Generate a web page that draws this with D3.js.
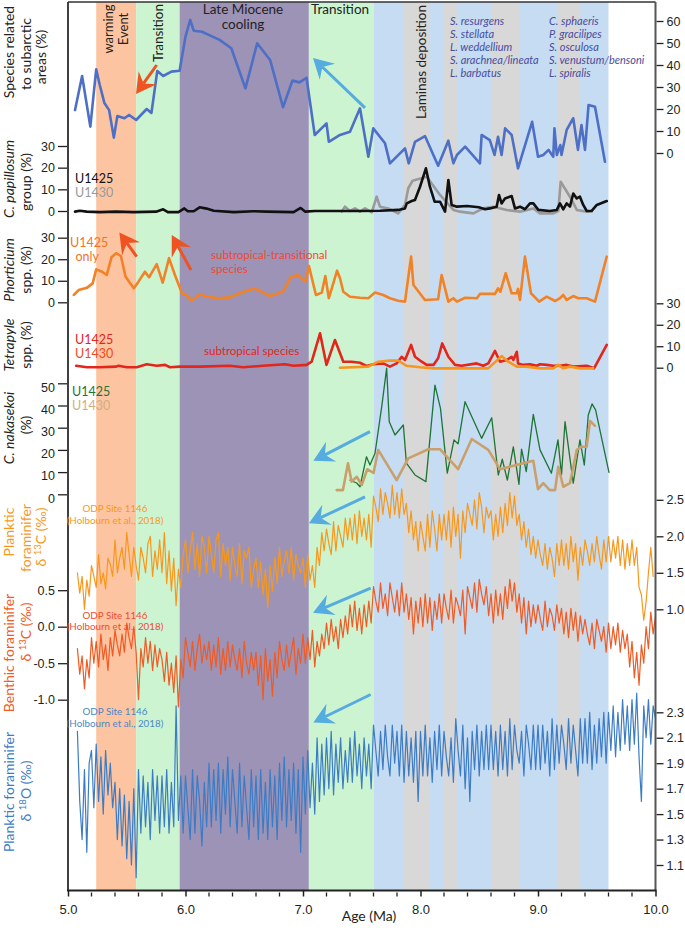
<!DOCTYPE html>
<html>
<head>
<meta charset="utf-8">
<script src="https://cdn.jsdelivr.net/npm/d3@7"></script>
<style>
body { margin: 0; background: #fff; }
svg { display: block; font-family: Lato, 'Noto Sans', sans-serif; }
</style>
</head>
<body>
<svg class="chart" width="685" height="930"></svg>
<script>
/** DATA **/
const ageTicks = [5, 6, 7, 8, 9, 10];
const ageMinor = [5.2, 5.4, 5.6, 5.8, 6.2, 6.4, 6.6, 6.8, 7.2, 7.4, 7.6, 7.8, 8.2, 8.4, 8.6, 8.8, 9.2, 9.4, 9.6, 9.8];

// background intervals (Ma)
const bandEdges = [[5.24, 5.58], [5.58, 5.95], [5.95, 7.05], [7.05, 7.60], [7.60, 9.60],
	[7.86, 8.075], [8.20, 8.31], [8.60, 8.84], [9.17, 9.36]];
const bandKinds = ['warm', 'trans', 'cool', 'trans', 'blue', 'gray', 'gray', 'gray', 'gray'];

// species related to subarctic areas (%)
const subarctic = [[5.06,19.5],[5.12,35],[5.19,12],[5.24,38],[5.27,31],[5.31,22.7],[5.35,19.5],[5.39,7],
	[5.42,16.8],[5.48,15.8],[5.52,17.3],[5.58,15],[5.67,20],[5.71,18.2],[5.76,37.3],[5.81,35],[5.88,37],
	[5.95,37.4],[6.0,52.9],[6.04,60.5],[6.07,55.6],[6.14,55.1],[6.29,51.4],[6.39,47.6],[6.51,29.4],
	[6.61,49.9],[6.72,42.3],[6.83,20.8],[6.91,32.9],[6.97,32.1],[7.03,34.2],[7.10,8.2],[7.20,13.5],
	[7.22,5.1],[7.315,8.2],[7.40,9.7],[7.485,20.3],[7.556,-1.7],[7.598,11.2],[7.698,4.4],[7.74,-4.7],
	[7.868,2.1],[7.90,-4.7],[7.953,5.1],[8.038,7.7],[8.15,-5.8],[8.237,5.6],[8.28,-4.7],[8.31,-0.9],
	[8.38,2.9],[8.506,-4.7],[8.52,8.2],[8.59,5.9],[8.63,-0.9],[8.66,7.4],[8.69,-0.9],[8.72,11.2],
	[8.776,8.2],[8.83,-7],[8.95,14.2],[9.0,-1.7],[9.045,-0.9],[9.09,1.4],[9.13,-1.7],[9.14,11.2],
	[9.16,-0.9],[9.19,3.6],[9.20,-0.9],[9.244,10.5],[9.30,15.8],[9.34,1.4],[9.37,12.7],[9.40,1.4],
	[9.43,21.8],[9.485,21],[9.57,-4]];

// C. papillosum group (%)
const papillosum1425 = [[5.06,-0.3],[5.10,0.1],[5.16,-0.3],[5.27,-0.5],[5.41,-0.3],[5.56,-0.5],[5.75,-0.3],
	[5.81,0.8],[5.85,-0.5],[5.94,-0.5],[5.99,1.2],[6.02,-0.1],[6.07,-0.1],[6.12,1.7],[6.18,1.1],[6.24,0.1],
	[6.41,-0.5],[6.58,-0.1],[6.69,-0.3],[6.92,-0.5],[6.98,1.4],[7.02,-0.3],[7.10,0],[7.20,0],[7.31,0],
	[7.485,0],[7.655,0.1],[7.81,0.5],[7.868,1.2],[7.883,3.5],[7.925,4.6],[7.953,5.1],[7.996,11.2],
	[8.046,19.7],[8.08,11.2],[8.12,4.3],[8.166,4.3],[8.209,-0.3],[8.237,14.3],[8.265,2.8],[8.31,2.0],
	[8.396,2.3],[8.496,1.7],[8.549,0.8],[8.591,1.2],[8.648,2.0],[8.668,7.4],[8.69,3.5],[8.719,5.8],
	[8.776,6.9],[8.804,1.2],[8.847,2.0],[8.889,0.8],[8.932,3.5],[8.96,3.5],[9.003,0.5],[9.10,0],
	[9.16,0.5],[9.187,3.5],[9.215,0.8],[9.244,3.5],[9.272,2.0],[9.30,8.1],[9.33,5.8],[9.357,6.6],
	[9.385,2.8],[9.415,0],[9.457,0.1],[9.50,2.8],[9.585,4.6]];
const papillosum1430 = [[7.33,-0.3],[7.357,2.0],[7.40,0],[7.443,1.2],[7.485,-0.3],[7.528,1.2],[7.585,-0.6],
	[7.627,6.6],[7.655,2.0],[7.726,1.2],[7.81,-1.1],[7.868,2.8],[7.896,10.5],[7.933,14.0],[8.053,15.8],
	[8.166,7.4],[8.28,0.5],[8.336,-0.3],[8.45,-1.1],[8.534,1.2],[8.62,2.0],[8.734,0.5],[8.847,-0.3],
	[8.96,1.2],[9.017,-1.1],[9.13,-1.1],[9.173,0],[9.193,13.5],[9.272,6.6],[9.33,0.5],[9.415,-0.3],[9.457,-0.3]];

// Phorticium spp. (%)
const phorticium1425 = [[5.05,3.4],[5.09,5.7],[5.13,6.3],[5.16,6.7],[5.21,8.8],[5.24,15.3],[5.29,14.2],
	[5.33,12.7],[5.37,20.9],[5.41,22.8],[5.45,21.5],[5.49,11.9],[5.56,6.5],[5.60,9.6],[5.655,14.2],
	[5.69,11.6],[5.755,17.7],[5.806,9.1],[5.86,20.5],[5.91,12.7],[5.97,4.2],[6.01,3.4],[6.05,0.6],
	[6.12,3.7],[6.19,2.6],[6.28,1.9],[6.38,2.3],[6.46,4.2],[6.59,6.5],[6.72,2.9],[6.83,4.9],[6.90,11.9],
	[6.96,12.7],[7.02,9.6],[7.05,16.9],[7.11,3.4],[7.16,4.5],[7.19,12.2],[7.22,1.9],[7.29,14.7],
	[7.315,11.2],[7.343,4.9],[7.40,2.6],[7.485,2.1],[7.556,1.9],[7.613,4.5],[7.683,3.4],[7.74,1.9],
	[7.81,0.7],[7.868,0.3],[7.92,21.2],[7.94,8.0],[8.038,1.1],[8.15,1.4],[8.18,12.7],[8.237,0.3],
	[8.28,1.9],[8.31,0.3],[8.38,2.1],[8.48,1.9],[8.506,3.9],[8.634,3.9],[8.66,6.5],[8.68,4.9],
	[8.725,13.5],[8.776,4.2],[8.82,4.2],[8.83,6.2],[8.847,1.1],[8.889,21.2],[8.94,4.2],[9.01,0.3],
	[9.074,2.6],[9.145,0.6],[9.187,1.9],[9.215,3.4],[9.244,1.1],[9.30,2.9],[9.343,1.9],[9.414,1.9],
	[9.485,0.3],[9.585,21.2]];

// Tetrapyle spp. (%)
const tetrapyle1425 = [[5.07,0.9],[5.16,0.2],[5.27,0.2],[5.41,0.5],[5.43,0.9],[5.50,0.2],[5.585,0.2],
	[5.67,1.6],[5.755,0.9],[5.826,1.3],[5.868,0.2],[5.953,0.5],[6.123,0.5],[6.379,0.9],[6.49,0.2],
	[6.66,0.9],[6.847,1.6],[6.92,0.9],[7.03,1.3],[7.074,2.8],[7.145,16],[7.20,1.3],[7.272,12.9],
	[7.343,2.8],[7.414,2.8],[7.485,2.3],[7.54,0.8],[7.60,1.6],[7.683,2.0],[7.74,0.5],[7.797,2.0],
	[7.84,5.1],[7.868,3.6],[7.92,10.6],[7.953,5.1],[8.01,2.8],[8.053,1.3],[8.11,1.3],[8.15,4.4],
	[8.185,11.3],[8.237,5.1],[8.294,1.3],[8.35,0.9],[8.478,2.0],[8.534,0.9],[8.577,2.0],[8.634,7.8],
	[8.677,2.8],[8.734,3.6],[8.776,5.1],[8.79,3.6],[8.82,7.4],[8.83,2.0],[8.875,1.3],[8.932,1.6],
	[8.99,0.9],[9.017,1.6],[9.074,1.3],[9.13,0.9],[9.187,0.9],[9.244,1.3],[9.30,0.5],[9.414,0.9],
	[9.477,-0.3],[9.585,10.6]];
const tetrapyle1430 = [[7.315,0],[7.556,0.5],[7.64,2.8],[7.74,3.3],[7.81,3.3],[7.88,0.9],[7.996,0.2],
	[8.11,-0.3],[8.577,-0.3],[8.69,5.4],[8.747,2.8],[8.82,0.5],[8.90,0.5],[9.017,-0.3],[9.13,-0.3],
	[9.173,1.3],[9.215,-0.3],[9.272,0.5],[9.357,-0.3],[9.47,-0.3]];

// C. nakasekoi (%)
const nakasekoi1425 = [[7.40,6.4],[7.457,5.1],[7.485,3.4],[7.54,16.9],[7.57,13.2],[7.613,18.5],[7.67,39.5],
	[7.712,56.8],[7.734,32.7],[7.783,26.7],[7.854,31.2],[7.88,14.0],[7.953,8.7],[8.046,5.7],[8.123,49.2],
	[8.17,38.7],[8.228,9.5],[8.285,24.5],[8.32,22.7],[8.379,41.7],[8.52,25.2],[8.606,34.5],[8.662,8.7],
	[8.696,15.8],[8.739,6.4],[8.79,21.4],[8.838,4.5],[8.86,20.3],[8.90,10.2],[8.96,36.0],[9.017,20.0],
	[9.114,9.5],[9.17,24.5],[9.20,8.7],[9.23,32.7],[9.30,5.0],[9.357,24.5],[9.394,13.2],[9.428,35.7],
	[9.46,40.7],[9.49,38.0],[9.604,9.9]];
const nakasekoi1430 = [[7.287,1.9],[7.34,1.9],[7.383,14.0],[7.414,5.7],[7.457,7.9],[7.50,4.2],[7.547,11.3],
	[7.60,9.6],[7.64,20.0],[7.797,6.4],[7.896,16.2],[8.066,20.3],[8.166,20.3],[8.32,11.3],[8.436,24.9],
	[8.577,20.0],[8.677,11.3],[8.96,15.1],[9.0,2.3],[9.045,5.0],[9.10,1.9],[9.145,1.9],[9.173,12.4],
	[9.215,3.4],[9.272,5.0],[9.33,20.0],[9.37,21.4],[9.414,21.4],[9.443,33.0],[9.485,30.8]];

// ODP Site 1146 isotope records (Holbourn et al., 2018), sample ages (Ma)
const isoAge = [5.08,5.10,5.12,5.14,5.16,5.18,
	5.20,5.22,5.24,5.26,5.28,5.30,5.32,5.34,5.36,5.38,
	5.40,5.42,5.44,5.46,5.48,5.50,5.52,5.54,5.56,5.58,
	5.60,5.62,5.64,5.66,5.68,5.70,5.72,5.74,5.76,5.78,
	5.80,5.82,5.84,5.86,5.88,5.90,5.92,5.94,5.96,5.98,
	6.00,6.02,6.04,6.06,6.08,6.10,6.12,6.14,6.16,6.18,
	6.20,6.22,6.24,6.26,6.28,6.30,6.32,6.34,6.36,6.38,
	6.40,6.42,6.44,6.46,6.48,6.50,6.52,6.54,6.56,6.58,
	6.60,6.62,6.64,6.66,6.68,6.70,6.72,6.74,6.76,6.78,
	6.80,6.82,6.84,6.86,6.88,6.90,6.92,6.94,6.96,6.98,
	7.00,7.02,7.04,7.06,7.08,7.10,7.12,7.14,7.16,7.18,
	7.20,7.22,7.24,7.26,7.28,7.30,7.32,7.34,7.36,7.38,
	7.40,7.42,7.44,7.46,7.48,7.50,7.52,7.54,7.56,7.58,
	7.60,7.62,7.64,7.66,7.68,7.70,7.72,7.74,7.76,7.78,
	7.80,7.82,7.84,7.86,7.88,7.90,7.92,7.94,7.96,7.98,
	8.00,8.02,8.04,8.06,8.08,8.10,8.12,8.14,8.16,8.18,
	8.20,8.22,8.24,8.26,8.28,8.30,8.32,8.34,8.36,8.38,
	8.40,8.42,8.44,8.46,8.48,8.50,8.52,8.54,8.56,8.58,
	8.60,8.62,8.64,8.66,8.68,8.70,8.72,8.74,8.76,8.78,
	8.80,8.82,8.84,8.86,8.88,8.90,8.92,8.94,8.96,8.98,
	9.00,9.02,9.04,9.06,9.08,9.10,9.12,9.14,9.16,9.18,
	9.20,9.22,9.24,9.26,9.28,9.30,9.32,9.34,9.36,9.38,
	9.40,9.42,9.44,9.46,9.48,9.50,9.52,9.54,9.56,9.58,
	9.60,9.62,9.64,9.66,9.68,9.70,9.72,9.74,9.76,9.78,
	9.80,9.82,9.84,9.86,9.88,9.90,9.92,9.94,9.96,9.98,
	10.00];
// planktic foraminifer d13C (permil)
const d13cPlanktic = [1.5,1.22,1.45,1.0,1.4,1.18,
	1.6,1.45,1.3,1.75,1.35,1.5,1.28,1.7,1.62,1.45,
	1.95,1.5,1.7,1.85,1.55,2.05,1.75,1.45,1.85,1.6,
	1.4,1.85,1.7,1.5,1.9,2.0,1.45,1.8,1.55,1.95,
	1.5,2.05,1.35,1.8,1.25,1.7,1.05,1.55,1.3,1.75,
	1.95,1.5,1.8,2.05,1.55,1.9,1.45,2.0,1.85,1.5,
	2.0,1.75,1.5,1.95,2.05,1.45,1.9,1.6,1.85,1.4,
	1.85,1.6,1.45,1.9,1.35,1.8,1.7,1.85,1.3,1.55,
	1.7,1.3,1.65,1.2,1.55,1.02,1.6,1.25,1.7,1.35,
	1.85,1.45,1.65,1.8,1.5,1.85,1.4,1.75,1.6,1.5,
	1.7,1.3,1.75,1.4,1.6,1.3,1.85,1.6,2.05,1.8,
	2.1,1.9,1.75,2.2,1.8,2.15,2.0,1.85,2.25,1.95,
	2.25,1.95,2.3,1.9,2.35,2.0,2.25,1.95,2.3,1.85,
	2.55,2.4,2.2,2.65,2.3,2.6,2.45,2.25,2.7,2.3,
	2.6,2.25,2.65,2.3,2.45,2.05,2.35,1.95,2.2,1.8,
	2.2,2.0,1.8,2.3,1.85,2.35,2.1,1.8,2.3,1.95,
	2.3,1.95,2.35,1.85,2.4,2.0,2.3,1.7,2.35,2.05,
	2.45,2.3,2.15,2.5,2.1,2.6,2.4,2.05,2.4,2.25,
	2.35,1.95,2.3,2.0,2.4,2.05,2.45,2.15,2.6,2.25,
	2.55,2.15,2.3,1.95,2.2,1.85,2.1,1.75,2.0,1.7,
	1.95,1.75,1.6,1.9,1.55,1.85,1.7,1.45,1.9,1.6,
	1.95,1.6,1.9,1.55,2.0,1.65,1.9,1.4,1.85,1.6,
	1.95,1.8,1.6,1.9,1.65,2.0,1.75,1.55,1.95,1.65,
	2.0,1.65,1.95,1.7,2.0,1.6,1.95,1.55,1.9,1.6,
	1.95,1.6,1.85,1.3,1.2,0.85,1.1,1.5,1.85,1.45,
	null];
// benthic foraminifer d13C (permil)
const d13cBenthic = [-0.3,-0.65,-0.4,-0.85,-0.45,-0.7,
	-0.15,-0.5,-0.2,-0.55,-0.1,-0.45,-0.25,-0.6,-0.15,-0.4,
	-0.05,-0.25,-0.4,-0.1,-0.35,0.05,-0.15,-0.3,0.0,-0.35,
	-1.0,-0.3,-0.55,-0.15,-0.5,-0.2,-0.6,-0.25,-0.55,-0.3,
	-0.45,-0.75,-0.35,-0.8,-0.5,-0.9,-0.4,-1.1,-0.45,-0.7,
	-0.15,-0.35,-0.55,-0.2,-0.6,-0.3,-0.1,-0.5,-0.25,-0.45,
	-0.2,-0.6,-0.25,-0.55,-0.15,-0.65,-0.3,-0.6,-0.2,-0.55,
	-0.25,-0.45,-0.6,-0.3,-0.7,-0.2,-0.5,-0.65,-0.35,-0.6,
	-0.35,-0.8,-0.4,-1.0,-0.3,-0.75,-0.45,-0.95,-0.35,-0.7,
	-0.2,-0.45,-0.6,-0.25,-0.55,-0.35,-0.15,-0.65,-0.3,-0.5,
	-0.1,-0.5,-0.15,-0.45,-0.05,-0.55,-0.2,-0.4,-0.1,-0.3,
	0.05,-0.25,0.1,-0.2,0.0,-0.3,0.1,-0.15,0.15,-0.1,
	0.3,0.0,0.35,-0.05,0.25,-0.1,0.3,0.0,0.35,0.05,
	0.55,0.35,0.2,0.6,0.25,0.45,0.15,0.6,0.4,0.2,
	0.5,0.15,0.6,0.2,0.45,0.1,0.4,-0.1,0.35,0.05,
	0.4,0.0,0.45,0.05,0.4,-0.05,0.35,0.1,0.45,0.05,
	0.45,0.25,0.1,0.5,0.05,0.4,0.3,0.15,0.5,-0.1,
	0.55,0.4,0.25,0.6,0.2,0.65,0.45,0.3,0.55,0.15,
	0.45,0.05,0.5,0.15,0.45,0.1,0.55,0.25,0.65,0.35,
	0.6,0.2,0.45,0.05,0.4,-0.1,0.35,0.0,0.3,0.05,
	0.3,0.1,-0.05,0.35,0.0,0.25,0.15,-0.05,0.3,0.05,
	0.25,-0.1,0.2,-0.15,0.25,-0.05,0.2,-0.2,0.15,-0.1,
	0.1,-0.1,-0.25,0.05,-0.3,0.1,-0.05,-0.2,0.0,-0.35,
	0.05,-0.3,0.0,-0.25,0.05,-0.35,-0.05,-0.3,-0.1,-0.55,
	-0.2,-0.7,-0.35,-0.8,-0.25,-0.5,0.0,-0.3,0.2,-0.1,
	0.15];
// planktic foraminifer d18O (permil)
const d18oPlanktic = [2.15,1.6,1.3,1.85,1.2,1.9,
	2.0,1.55,2.05,1.6,1.95,1.5,2.0,1.65,1.9,1.55,
	1.75,1.3,1.7,1.25,1.65,1.15,1.6,1.1,1.7,1.0,
	1.85,1.35,1.8,1.4,1.75,1.3,1.85,1.45,1.8,1.35,
	1.8,1.4,1.85,1.35,1.75,1.4,2.35,1.45,1.8,1.35,
	1.8,1.55,1.3,1.85,1.35,1.8,1.6,1.25,1.75,1.4,
	1.9,1.4,1.85,1.45,1.9,1.35,1.85,1.5,1.95,1.4,
	1.85,1.6,1.35,1.9,1.4,1.8,1.55,1.3,1.85,1.4,
	1.8,1.3,1.85,1.35,1.75,1.3,1.85,1.4,1.8,1.3,
	1.9,1.45,1.95,1.4,1.85,1.45,1.9,1.35,1.85,1.2,
	1.95,1.5,2.0,1.55,1.9,1.5,2.1,1.6,2.05,1.65,
	2.1,1.7,2.15,1.65,2.05,1.75,2.1,1.7,2.0,1.75,
	2.1,1.75,2.15,1.8,2.05,1.7,2.1,1.8,2.05,1.7,
	2.2,2.0,1.8,2.15,1.85,2.2,1.95,1.8,2.2,1.9,
	2.15,1.8,2.2,1.75,2.15,1.8,2.1,1.75,2.15,1.6,
	2.15,1.8,2.2,1.8,2.1,1.75,2.15,1.85,2.2,1.8,
	2.15,1.95,1.8,2.1,1.75,2.25,2.0,1.8,2.2,1.7,
	2.1,1.6,2.15,1.85,2.2,1.8,2.15,1.85,2.2,1.85,
	2.2,1.85,2.15,1.8,2.2,1.85,2.15,1.8,2.25,1.85,
	2.2,2.0,1.9,2.15,1.8,2.2,2.05,1.85,2.2,1.85,
	2.2,1.85,2.2,1.9,2.15,1.8,2.25,1.85,2.2,1.9,
	2.2,2.05,1.85,2.25,1.9,2.2,2.0,1.8,2.25,1.9,
	2.25,1.9,2.3,1.85,2.2,1.9,2.25,1.95,2.3,1.9,
	2.3,2.0,2.35,1.95,2.3,2.0,2.4,2.05,2.35,2.0,
	2.4,2.05,2.45,1.95,1.6,2.35,2.1,2.4,2.05,2.35,
	2.25];

// tick labels
const ticksSubarctic = [0, 10, 20, 30, 40, 50, 60];
const ticksPercent30 = [0, 10, 20, 30];
const ticksNakasekoi = [0, 10, 20, 30, 40, 50];
const ticksD13cPlanktic = [1.0, 1.5, 2.0, 2.5];
const ticksD13cBenthic = [-1.0, -0.5, 0.0, 0.5];
const ticksD18o = [1.1, 1.3, 1.5, 1.7, 1.9, 2.1, 2.3];

const speciesLeft = ['S. resurgens', 'S. stellata', 'L. weddellium', 'S. arachnea/lineata', 'L. barbatus'];
const speciesRight = ['C. sphaeris', 'P. gracilipes', 'S. osculosa', 'S. venustum/bensoni', 'L. spiralis'];

// arrows: panel, from (age, value), to (age, value), kind
const arrowNotes = [
	['subarctic', 5.755, 40, 5.579, 26.8, 'warm'],
	['subarctic', 7.528, 20.5, 7.085, 43.2, 'cool'],
	['phorticium', 5.585, 21.2, 5.437, 32.4, 'warm'],
	['phorticium', 6.047, 15.0, 5.883, 31.3, 'warm'],
	['nakasekoi', 7.57, 28.2, 7.088, 15.1, 'cool'],
	['d13cPlanktic', 7.528, 2.54, 7.05, 2.18, 'cool'],
	['d13cBenthic', 7.576, 0.53, 7.085, 0.19, 'cool'],
	['d18o', 7.576, 2.44, 7.088, 2.22, 'cool']
];

/** CONSTANTS **/
let frame = { left: 68, right: 655.5, top: 2, bottom: 890.5 };

let colors = {
	warm: '#fdc4a1', trans: '#cdf4d1', cool: '#9d93b7', blue: '#c6dcf3', gray: '#d8d8d8',
	warmArrow: '#ee5321', coolArrow: '#56abe0',
	subarctic: '#4d6fc6', black: '#111111', gray1430: '#9a9a9a',
	phorticium: '#f28226', tetra1425: '#e2261c', tetra1430: '#f7961d',
	naka1425: '#1d7436', naka1430: '#c9a06c',
	plank13: '#f7981d', benth13: '#f05a24', plank18: '#3c7cc5',
	species: '#4a4c9c', axis: '#231f20'
};

let x = d3.scaleLinear().domain([5, 10]).range([frame.left, frame.right]);

let y = {
	subarctic: d3.scaleLinear().domain([0, 60]).range([153, 21]),
	papillosum: d3.scaleLinear().domain([0, 30]).range([211, 146]),
	phorticium: d3.scaleLinear().domain([0, 30]).range([302.3, 237.7]),
	tetrapyle: d3.scaleLinear().domain([0, 30]).range([367.7, 303.3]),
	nakasekoi: d3.scaleLinear().domain([0, 50]).range([494.3, 383.3]),
	d13cPlanktic: d3.scaleLinear().domain([1, 2.5]).range([609.3, 499.8]),
	d13cBenthic: d3.scaleLinear().domain([-1, 0.5]).range([699.7, 590.2]),
	d18o: d3.scaleLinear().domain([1.1, 2.3]).range([865, 712.3])
};

let svg = d3.select('.chart');

createBands();
createRecords();
createArrows();
createAxes();
createPanelText();
createTitles();

/** BACKGROUND **/
function createBands() {
	let g = svg.append('g').attr('class', 'bands');
	g.selectAll('rect')
		.data(bandEdges)
		.enter()
		.append('rect')
		.attr('x', function(d) { return x(d[0]); })
		.attr('y', frame.top)
		.attr('width', function(d) { return x(d[1]) - x(d[0]); })
		.attr('height', frame.bottom - frame.top)
		.attr('fill', function(d, i) { return colors[bandKinds[i]]; });
}

/** RECORDS **/
function drawLine(data, scale, color, width) {
	let line = d3.line()
		.defined(function(d) { return d[1] !== null; })
		.x(function(d) { return x(d[0]); })
		.y(function(d) { return scale(d[1]); });
	svg.append('path')
		.datum(data)
		.attr('d', line)
		.attr('fill', 'none')
		.attr('stroke', color)
		.attr('stroke-width', width)
		.attr('stroke-linejoin', 'round')
		.attr('stroke-linecap', 'round');
}

function createRecords() {
	drawLine(d3.zip(isoAge, d13cPlanktic), y.d13cPlanktic, colors.plank13, 1.2);
	drawLine(d3.zip(isoAge, d13cBenthic), y.d13cBenthic, colors.benth13, 1.2);
	drawLine(d3.zip(isoAge, d18oPlanktic), y.d18o, colors.plank18, 1.2);

	drawLine(subarctic, y.subarctic, colors.subarctic, 2.6);
	drawLine(papillosum1430, y.papillosum, colors.gray1430, 2.6);
	drawLine(papillosum1425, y.papillosum, colors.black, 2.6);
	drawLine(phorticium1425, y.phorticium, colors.phorticium, 2.6);
	drawLine(tetrapyle1425, y.tetrapyle, colors.tetra1425, 2.6);
	drawLine(tetrapyle1430, y.tetrapyle, colors.tetra1430, 2.6);
	drawLine(nakasekoi1425, y.nakasekoi, colors.naka1425, 1.3);
	drawLine(nakasekoi1430, y.nakasekoi, colors.naka1430, 2.6);
}

/** ARROWS **/
function createArrows() {
	let g = svg.append('g').attr('class', 'arrows');
	arrowNotes.forEach(function(a) {
		let sc = y[a[0]];
		let x0 = x(a[1]), y0 = sc(a[2]), x1 = x(a[3]), y1 = sc(a[4]);
		let len = Math.hypot(x1 - x0, y1 - y0);
		let ux = (x1 - x0) / len, uy = (y1 - y0) / len;
		let px = -uy, py = ux;
		let headLen = 20, headW = 11, notch = 13;
		let color = a[5] === 'warm' ? colors.warmArrow : colors.coolArrow;
		g.append('line')
			.attr('x1', x0).attr('y1', y0)
			.attr('x2', x1 - ux * notch).attr('y2', y1 - uy * notch)
			.attr('stroke', color)
			.attr('stroke-width', 3);
		let pts = [
			[x1, y1],
			[x1 - ux * headLen + px * headW, y1 - uy * headLen + py * headW],
			[x1 - ux * notch, y1 - uy * notch],
			[x1 - ux * headLen - px * headW, y1 - uy * headLen - py * headW]
		];
		g.append('path')
			.attr('d', 'M' + pts.map(function(p) { return p.join(','); }).join('L') + 'Z')
			.attr('fill', color);
	});
}

/** AXES **/
function styleAxis(g) {
	g.select('.domain').remove();
	g.selectAll('.tick line').attr('stroke', colors.axis).attr('stroke-width', 1.3);
	g.selectAll('.tick text').style('font-size', '12.5px').attr('fill', colors.axis);
}

function leftAxis(scale, ticks, fmt, dy) {
	let g = svg.append('g')
		.attr('transform', 'translate(' + (frame.left - 1) + ',0)')
		.call(d3.axisLeft(scale).tickValues(ticks).tickSize(9).tickPadding(3).tickFormat(fmt));
	styleAxis(g);
	if (dy) g.selectAll('.tick text').attr('dy', dy);
}

function rightAxis(scale, ticks, fmt) {
	let g = svg.append('g')
		.attr('transform', 'translate(' + (frame.right + 1) + ',0)')
		.call(d3.axisRight(scale).tickValues(ticks).tickSize(7).tickPadding(3).tickFormat(fmt));
	styleAxis(g);
}

function createAxes() {
	let intFmt = function(d) { return d; };
	let oneDec = function(d) { return d.toFixed(1); };

	rightAxis(y.subarctic, ticksSubarctic, intFmt);
	leftAxis(y.papillosum, ticksPercent30, intFmt);
	leftAxis(y.phorticium, ticksPercent30, intFmt);
	rightAxis(y.tetrapyle, ticksPercent30, intFmt);
	leftAxis(y.nakasekoi, ticksNakasekoi, intFmt, '0.62em');
	rightAxis(y.d13cPlanktic, ticksD13cPlanktic, oneDec);
	leftAxis(y.d13cBenthic, ticksD13cBenthic, oneDec);
	rightAxis(y.d18o, ticksD18o, oneDec);

	// frame
	let f = svg.append('g').attr('class', 'frame');
	f.append('line').attr('x1', frame.left).attr('x2', frame.left)
		.attr('y1', frame.top).attr('y2', frame.bottom).attr('stroke', '#111').attr('stroke-width', 1.6);
	f.append('line').attr('x1', frame.left).attr('x2', frame.right)
		.attr('y1', frame.top).attr('y2', frame.top).attr('stroke', '#333').attr('stroke-width', 1.4);
	f.append('line').attr('x1', frame.right).attr('x2', frame.right)
		.attr('y1', frame.top).attr('y2', frame.bottom).attr('stroke', '#555').attr('stroke-width', 2);

	// age axis
	let gx = svg.append('g')
		.attr('transform', 'translate(0,' + frame.bottom + ')')
		.call(d3.axisBottom(x).tickValues(ageTicks).tickSize(6).tickPadding(8)
			.tickFormat(function(d) { return d.toFixed(1); }));
	gx.select('.domain').remove();
	gx.selectAll('.tick line').attr('stroke', colors.axis).attr('stroke-width', 1.5);
	gx.selectAll('.tick text').style('font-size', '13px').attr('fill', colors.axis);

	gx.selectAll('.minor')
		.data(ageMinor)
		.enter()
		.append('line')
		.attr('class', 'minor')
		.attr('x1', function(d) { return x(d); })
		.attr('x2', function(d) { return x(d); })
		.attr('y1', 2).attr('y2', 6)
		.attr('stroke', colors.axis)
		.attr('stroke-width', 1.3);

	f.append('line').attr('x1', frame.left - 1).attr('x2', frame.right + 1)
		.attr('y1', frame.bottom).attr('y2', frame.bottom).attr('stroke', '#222').attr('stroke-width', 2);

	svg.append('text')
		.attr('x', 369)
		.attr('y', 921)
		.attr('text-anchor', 'middle')
		.style('font-size', '14px')
		.attr('fill', colors.axis)
		.text('Age (Ma)');
}

/** TEXT INSIDE THE PLOT **/
function label(px, py, str, color, size, opts) {
	opts = opts || {};
	let t = svg.append('text')
		.attr('x', px)
		.attr('y', py)
		.attr('fill', color)
		.style('font-size', size + 'px')
		.attr('text-anchor', opts.anchor || 'start')
		.text(str);
	if (opts.italic) t.style('font-style', 'italic');
	if (opts.rotate) t.attr('transform', 'rotate(-90,' + px + ',' + py + ')');
	return t;
}

function createPanelText() {
	// interval names
	label(113, 29, 'warming', '#222', 13, { anchor: 'middle', rotate: true });
	label(128, 29, 'Event', '#222', 13, { anchor: 'middle', rotate: true });
	label(163, 33, 'Transition', '#222', 13.5, { anchor: 'middle', rotate: true });
	label(243, 14, 'Late Miocene', '#222', 13.5, { anchor: 'middle' });
	label(243, 29, 'cooling', '#222', 13.5, { anchor: 'middle' });
	label(311, 14, 'Transition', '#222', 13.5);
	label(426, 62, 'Laminas deposition', '#222', 13.5, { anchor: 'middle', rotate: true });

	// species list
	speciesLeft.forEach(function(s, i) {
		label(450, 25 + i * 13, s, colors.species, 11, { italic: true });
	});
	speciesRight.forEach(function(s, i) {
		label(549, 25 + i * 13, s, colors.species, 11, { italic: true });
	});

	// site labels
	label(75, 183, 'U1425', '#111', 12.5);
	label(75, 197, 'U1430', '#999', 12.5);
	label(70, 247, 'U1425', '#f0742a', 12.5);
	label(75.5, 261, 'only', '#f0742a', 12.5);
	label(211, 258.5, 'subtropical-transitional', '#ec4a35', 11.5);
	label(211, 272.5, 'species', '#ec4a35', 11.5);
	label(75, 343.5, 'U1425', '#e2261c', 12.5);
	label(75, 357.5, 'U1430', '#ee4a22', 12.5);
	label(204, 355, 'subtropical species', '#e2261c', 11.5);
	label(72, 396, 'U1425', colors.naka1425, 12.5);
	label(72, 409.5, 'U1430', '#cfae84', 12.5);

	// data source notes
	let src = [[512, 523.5, colors.plank13], [618.5, 630, '#ef4a36'], [715, 727, '#4a87c8']];
	src.forEach(function(s) {
		label(115, s[0], 'ODP Site 1146', s[2], 9.8, { anchor: 'middle' });
		label(115, s[1], '(Holbourn et al., 2018)', s[2], 9.8, { anchor: 'middle' });
	});
}

/** AXIS TITLES **/
function vtitle(px, py, color, parts) {
	let t = svg.append('text')
		.attr('x', px)
		.attr('y', py)
		.attr('fill', color)
		.attr('text-anchor', 'middle')
		.style('font-size', '14px')
		.attr('transform', 'rotate(-90,' + px + ',' + py + ')');
	parts.forEach(function(p) {
		let s = t.append('tspan').text(p.t);
		if (p.i) s.style('font-style', 'italic');
		if (p.sup) s.attr('dy', -5).style('font-size', '9.5px');
		if (p.back) s.attr('dy', 5);
	});
}

function createTitles() {
	vtitle(14, 52, '#222', [{ t: 'Species related' }]);
	vtitle(31, 54, '#222', [{ t: 'to subarctic' }]);
	vtitle(46, 57, '#222', [{ t: 'areas  (%)' }]);

	vtitle(14, 179, '#222', [{ t: 'C. papillosum', i: true }]);
	vtitle(31, 182, '#222', [{ t: 'group  (%)' }]);

	vtitle(14, 270, '#222', [{ t: 'Phorticium', i: true }]);
	vtitle(31, 270, '#222', [{ t: 'spp. (%)' }]);

	vtitle(14, 345, '#222', [{ t: 'Tetrapyle', i: true }]);
	vtitle(31, 345, '#222', [{ t: 'spp. (%)' }]);

	vtitle(14, 428, '#222', [{ t: 'C. nakasekoi', i: true }]);
	vtitle(31, 425, '#222', [{ t: '(%)' }]);

	vtitle(14, 532, colors.plank13, [{ t: 'Planktic' }]);
	vtitle(31, 538, colors.plank13, [{ t: 'foraminifer' }]);
	vtitle(46, 537, colors.plank13, [{ t: 'δ ' }, { t: '13', sup: true }, { t: 'C (‰)', back: true }]);

	vtitle(14, 653, colors.benth13, [{ t: 'Benthic foraminifer' }]);
	vtitle(31, 632, colors.benth13, [{ t: 'δ ' }, { t: '13', sup: true }, { t: 'C (‰)', back: true }]);

	vtitle(14, 792, colors.plank18, [{ t: 'Planktic foraminifer' }]);
	vtitle(31, 791, colors.plank18, [{ t: 'δ ' }, { t: '18', sup: true }, { t: 'O (‰)', back: true }]);
}
</script>
</body>
</html>
